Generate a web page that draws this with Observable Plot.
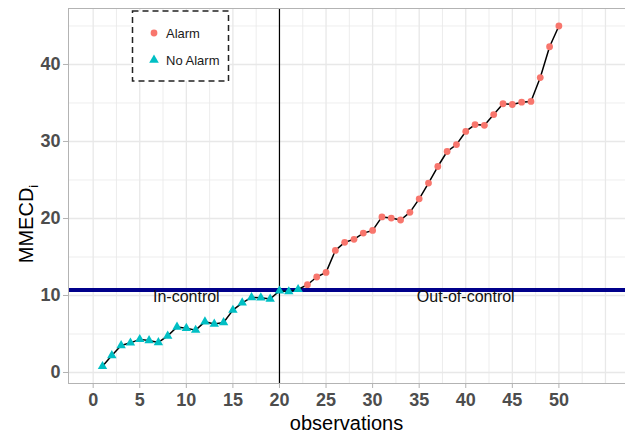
<!DOCTYPE html>
<html>
<head>
<meta charset="utf-8">
<script src="https://cdn.jsdelivr.net/npm/d3@7"></script>
<script src="https://cdn.jsdelivr.net/npm/@observablehq/plot@0.6"></script>
<style>
  body { margin: 0; background: #fff; }
  #chart svg { display: block; font-family: "Liberation Sans", Arial, sans-serif; }
</style>
</head>
<body>
<div id="chart"></div>
<script>
// ---- data ----
const observations = d3.range(1, 51);
const mmecd = [
  0.8, 2.2, 3.5, 3.85, 4.3, 4.15, 3.9, 4.75, 5.9, 5.75,
  5.5, 6.6, 6.3, 6.5, 8.1, 9.05, 9.75, 9.7, 9.55, 10.6,
  10.5, 10.8, 11.4, 12.4, 13.0, 15.85, 16.9, 17.3, 18.1, 18.45,
  20.2, 20.05, 19.8, 20.8, 22.55, 24.6, 26.75, 28.7, 29.6, 31.3,
  32.2, 32.1, 33.5, 34.9, 34.8, 35.1, 35.2, 38.3, 42.3, 45.0
];
const firstAlarm = 23;
const statusLabels = ["Alarm", "No Alarm"];
const statusColors = ["#F8766D", "#00BFC4"];
const controlLimit = 10.7;
const changePoint = 20;
const regionLabels = ["In-control", "Out-of-control"];
const regionX = [10, 40];
const regionY = [9.8, 9.8];
const xTicks = [0, 5, 10, 15, 20, 25, 30, 35, 40, 45, 50];
const yTicks = [0, 10, 20, 30, 40];
const xGridMinor = [2.5, 7.5, 12.5, 17.5, 22.5, 27.5, 32.5, 37.5, 42.5, 47.5, 52.5];
const xGridMajor = [0, 5, 10, 15, 20, 25, 30, 35, 40, 45, 50, 55];
const yGridMinor = [5, 15, 25, 35, 45];

const data = observations.map((o, i) => ({
  obs: o, value: mmecd[i], status: o >= firstAlarm ? "Alarm" : "No Alarm"
}));
const regions = regionLabels.map((t, i) => ({ t, x: regionX[i], y: regionY[i] }));

const grid = "#e8e8e8";
const plot = Plot.plot({
  width: 625, height: 436,
  marginLeft: 68, marginRight: 0, marginTop: 8, marginBottom: 53,
  x: { domain: [-2.65, 57.15] },
  y: { domain: [-1.43, 47.27] },
  style: { fontFamily: "Liberation Sans, Arial, sans-serif" },
  marks: [
    Plot.ruleX(xGridMinor, { stroke: grid, strokeWidth: 0.8 }),
    Plot.ruleX(xGridMajor, { stroke: grid, strokeWidth: 1.3 }),
    Plot.ruleY(yGridMinor, { stroke: grid, strokeWidth: 0.8 }),
    Plot.ruleY(yTicks, { stroke: grid, strokeWidth: 1.3 }),
    Plot.ruleY([controlLimit], { stroke: "#00008B", strokeWidth: 4 }),
    Plot.ruleX([changePoint], { stroke: "#000", strokeWidth: 1.2 }),
    Plot.line(data, { x: "obs", y: "value", stroke: "#000", strokeWidth: 1.5 }),
    Plot.dot(data.filter(d => d.status === "Alarm"), { x: "obs", y: "value", r: 3.4, fill: statusColors[0], symbol: "circle" }),
    Plot.dot(data.filter(d => d.status === "No Alarm"), { x: "obs", y: "value", r: 3.5, fill: statusColors[1], symbol: "triangle" }),
    Plot.text(regions, { x: "x", y: "y", text: "t", fontSize: 16, fill: "#111" }),
    Plot.frame({ stroke: "#b3b3b3", strokeWidth: 1 }),
    Plot.axisX(xTicks, { tickSize: 5, tickPadding: 5, stroke: "#b3b3b3", fill: "#4d4d4d", fontSize: 18, fontWeight: "bold", label: null }),
    Plot.axisY(yTicks, { tickSize: 5, tickPadding: 3, stroke: "#b3b3b3", fill: "#4d4d4d", fontSize: 18, fontWeight: "bold", label: null })
  ]
});
document.getElementById("chart").appendChild(plot);

const svg = d3.select(plot);
// axis titles
svg.append("text").attr("x", 346.5).attr("y", 430).attr("text-anchor", "middle")
  .attr("font-size", 20).attr("fill", "#000").text("observations");
const yt = svg.append("text").attr("transform", "translate(33,224) rotate(-90)")
  .attr("text-anchor", "middle").attr("font-size", 20).attr("fill", "#000");
yt.append("tspan").text("MMECD");
yt.append("tspan").attr("font-size", 13).attr("dy", 5).text("i");

// legend
const lg = svg.append("g").attr("text-anchor", "start");
lg.append("rect").attr("x", 132.5).attr("y", 11).attr("width", 96).attr("height", 70)
  .attr("fill", "#fff").attr("stroke", "#222").attr("stroke-width", 1.5).attr("stroke-dasharray", "6,4");
const sym = [d3.symbolCircle, d3.symbolTriangle];
const symSize = [36, 40];
statusLabels.forEach((lab, i) => {
  const cy = 33 + i * 27;
  lg.append("path").attr("d", d3.symbol(sym[i], symSize[i])())
    .attr("transform", `translate(154,${cy})`).attr("fill", statusColors[i]);
  lg.append("text").attr("x", 166).attr("y", cy).attr("dy", "0.35em")
    .attr("text-anchor", "start").attr("font-size", 13).attr("fill", "#1a1a1a").text(lab);
});
</script>
</body>
</html>
